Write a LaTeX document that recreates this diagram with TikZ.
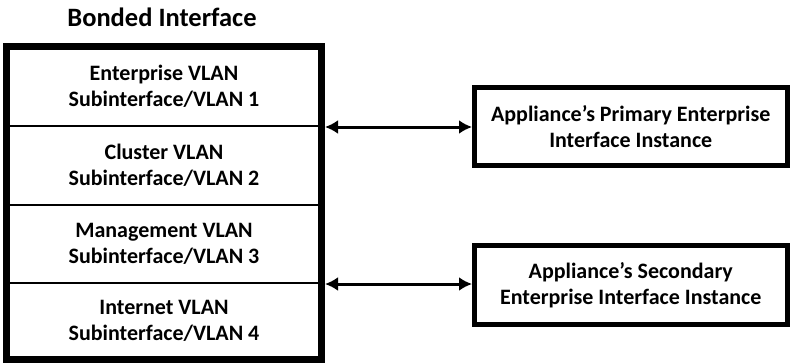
\documentclass[tikz,border=0pt]{standalone}
\usepackage{fontspec}
\setmainfont{Carlito}
\usetikzlibrary{arrows.meta}
\tikzset{
  rowbox/.style={draw=black, line width=2pt, minimum width=315pt, inner sep=0pt, align=center, font=\fontsize{22}{26.5}\selectfont\bfseries},
  bondbox/.style={draw=black, line width=7pt, minimum width=315pt, minimum height=312.5pt, inner sep=0pt},
  appbox/.style={draw=black, line width=5pt, minimum width=312.5pt, inner sep=0pt, align=center, font=\fontsize{22}{26.5}\selectfont\bfseries},
  titletext/.style={font=\fontsize{26.5}{30}\selectfont\bfseries},
  link/.style={line width=3pt, {Latex[length=13pt,width=14pt]}-{Latex[length=13pt,width=14pt]}}
}
\begin{document}
\begin{tikzpicture}[x=1pt,y=-1pt]
\useasboundingbox (0,0) rectangle (790,364);
\node[titletext] (title) at (162,17) {Bonded Interface};
\node[rowbox, minimum height=79.5pt] (r1) at (164,86.25) {Enterprise VLAN\\Subinterface/VLAN 1};
\node[rowbox, minimum height=79pt] (r2) at (164,165.5) {Cluster VLAN\\Subinterface/VLAN 2};
\node[rowbox, minimum height=78pt] (r3) at (164,244) {Management VLAN\\Subinterface/VLAN 3};
\node[rowbox, minimum height=76pt] (r4) at (164,321) {Internet VLAN\\Subinterface/VLAN 4};
\node[bondbox] (bond) at (164,202.75) {};
\node[appbox, minimum height=78pt] (p1) at (630.75,126.5) {Appliance’s Primary Enterprise\\Interface Instance};
\node[appbox, minimum height=79pt] (p2) at (630.75,285) {Appliance’s Secondary\\Enterprise Interface Instance};
\coordinate (a1) at (bond.east |- r1.south);
\coordinate (a2) at (bond.east |- r3.south);
\draw[link] (a1) -- (p1.west |- a1);
\draw[link] (a2) -- (p2.west |- a2);
\end{tikzpicture}
\end{document}
